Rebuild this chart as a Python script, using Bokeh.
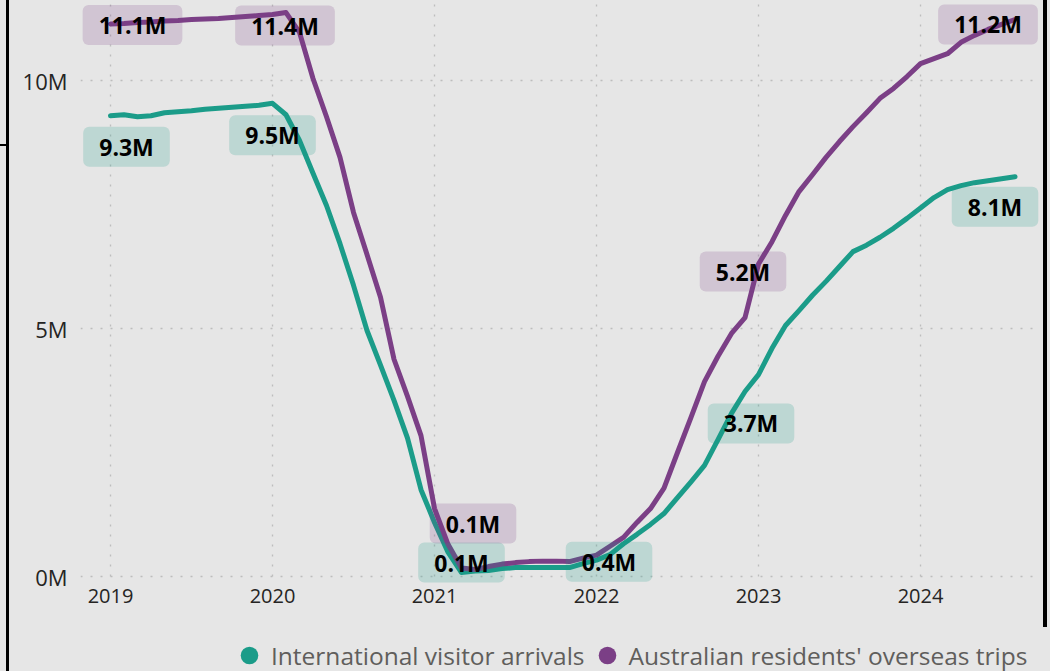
from bokeh.plotting import figure
from bokeh.models import (ColumnDataSource, Range1d, FixedTicker, PrintfTickFormatter,
                          Legend, LegendItem)
from bokeh.core.properties import value
from bokeh.embed import file_html
from bokeh.resources import INLINE

# ---------------- data (millions, rolling monthly, Jan 2019 .. Aug 2024) ----------------
start_year = 2019
arrivals = [9.29, 9.31, 9.27, 9.29, 9.35, 9.37, 9.39, 9.42, 9.44, 9.46, 9.48, 9.50,
            9.54, 9.31, 8.79, 8.13, 7.48, 6.71, 5.87, 4.96, 4.26, 3.55, 2.79, 1.75,
            1.09, 0.49, 0.08, 0.11, 0.12, 0.16, 0.18, 0.18, 0.18, 0.18, 0.18, 0.26,
            0.33, 0.44, 0.66, 0.85, 1.05, 1.27, 1.59, 1.91, 2.24, 2.76, 3.29, 3.73,
            4.07, 4.60, 5.06, 5.36, 5.67, 5.95, 6.25, 6.55, 6.68, 6.84, 7.02, 7.22,
            7.43, 7.64, 7.80, 7.88, 7.94, 7.98, 8.02, 8.06]
departures = [11.14, 11.15, 11.17, 11.18, 11.20, 11.21, 11.23, 11.24, 11.25, 11.27, 11.29, 11.31,
              11.33, 11.37, 10.97, 10.04, 9.27, 8.45, 7.34, 6.49, 5.63, 4.38, 3.63, 2.84,
              1.37, 0.65, 0.17, 0.14, 0.20, 0.25, 0.28, 0.30, 0.31, 0.31, 0.30, 0.37,
              0.43, 0.61, 0.79, 1.09, 1.37, 1.78, 2.50, 3.21, 3.93, 4.44, 4.90, 5.22,
              6.30, 6.75, 7.28, 7.76, 8.10, 8.45, 8.77, 9.07, 9.35, 9.64, 9.84, 10.08,
              10.34, 10.44, 10.54, 10.77, 10.91, 11.03, 11.13, 11.23]
series_names = ["International visitor arrivals", "Australian residents' overseas trips"]
year_ticks = [2019, 2020, 2021, 2022, 2023, 2024]
value_ticks = [0, 5, 10]

# indices of labelled points
arr_label_idx = [0, 12, 26, 37, 47, 67]
dep_label_idx = [0, 13, 27, 47, 67]

# ---------------- styling / placement ----------------
TEAL = "#1B9C89"
PURPLE = "#7B3F86"
BG = "#E6E6E6"
GRID = "#BDBDBD"
arr_xoff = [16, 0, 0, -1, 6, -20]
arr_yoff = [31, 32, -10, 7, 32, 30]
dep_xoff = [22, -1, -2, -2, -27]
dep_yoff = [1, 13, -46, -46, 5]

x = [start_year + i / 12 for i in range(len(arrivals))]
Y_END = 11.5726

p = figure(width=1050, height=671, output_backend="svg", toolbar_location=None,
           x_range=Range1d(2018.8148, 2024.7407), y_range=Range1d(-1.9153, Y_END),
           min_border_left=80, min_border_right=10, min_border_top=2, min_border_bottom=0)
p.background_fill_color = BG
p.border_fill_color = BG
p.border_fill_alpha = 0
p.outline_line_color = None
# container frame lines (left edge, right edge, small notch) painted behind the transparent border
p.styles = {"background": (
    "linear-gradient(#000,#000) 6px 0 / 3px 671px no-repeat, "
    "linear-gradient(#000,#000) 1043px 0 / 4px 627px no-repeat, "
    "linear-gradient(#000,#000) 0 144px / 7px 2px no-repeat, " + BG)}

for ax in (p.xaxis[0], p.yaxis[0]):
    ax.axis_line_color = None
    ax.major_tick_line_color = None
    ax.minor_tick_line_color = None
    ax.major_tick_out = 0
    ax.major_tick_in = 0
    ax.major_label_text_font = "Open Sans"
    ax.major_label_text_font_size = "20px"
    ax.major_label_text_color = "#252423"
p.xaxis.ticker = FixedTicker(ticks=year_ticks)
p.xaxis.formatter = PrintfTickFormatter(format="%d")
p.xaxis.major_label_standoff = 12
p.xaxis.fixed_location = 0
p.yaxis.ticker = FixedTicker(ticks=value_ticks)
p.yaxis.formatter = PrintfTickFormatter(format="%dM")
p.yaxis.major_label_standoff = 13
p.yaxis.major_label_text_font_size = "22px"

p.ygrid.grid_line_color = GRID
p.ygrid.grid_line_dash = "2 8"
p.ygrid.grid_line_width = 1.3
p.xgrid.visible = False
# vertical gridlines only above the zero line
p.segment(x0=year_ticks, x1=year_ticks, y0=[0] * len(year_ticks), y1=[Y_END] * len(year_ticks),
          line_color=GRID, line_dash="2 8", line_width=1.3)

src = ColumnDataSource(dict(x=x, arr=arrivals, dep=departures))
p.line("x", "arr", source=src, color=TEAL, line_width=5, line_join="round", line_cap="round")
p.line("x", "dep", source=src, color=PURPLE, line_width=5, line_join="round", line_cap="round")

def label_source(vals, idx, xo, yo):
    return ColumnDataSource(dict(
        x=[x[i] for i in idx], y=[vals[i] for i in idx],
        t=[f"{vals[i]:.1f}M" for i in idx], xo=xo, yo=yo))

for vals, idx, xo, yo, col in ((arrivals, arr_label_idx, arr_xoff, arr_yoff, TEAL),
                               (departures, dep_label_idx, dep_xoff, dep_yoff, PURPLE)):
    p.text("x", "y", text="t", source=label_source(vals, idx, xo, yo),
           x_offset="xo", y_offset="yo",
           text_font=value("Open Sans"), text_font_style="bold", text_font_size="23px",
           text_color="black", text_align="center", text_baseline="middle",
           background_fill_color=col, background_fill_alpha=0.2,
           border_radius=6, padding=(16, 4))

# legend (marker renderers are size 0 so only the legend swatch shows)
r1 = p.scatter("x", "arr", source=src, marker="circle", size=0, fill_color=TEAL, line_color=None)
r2 = p.scatter("x", "dep", source=src, marker="circle", size=0, fill_color=PURPLE, line_color=None)
legend = Legend(items=[LegendItem(label=series_names[0], renderers=[r1]),
                       LegendItem(label=series_names[1], renderers=[r2])],
                location=(147, -6), orientation="horizontal",
                glyph_width=44, glyph_height=44, label_standoff=0, spacing=0,
                padding=0, margin=0, label_text_font="Open Sans",
                label_text_font_size="24.5px", label_text_color="#605E5C",
                background_fill_alpha=0, border_line_alpha=0)
p.add_layout(legend)

open("out.html", "w").write(file_html(p, INLINE))
